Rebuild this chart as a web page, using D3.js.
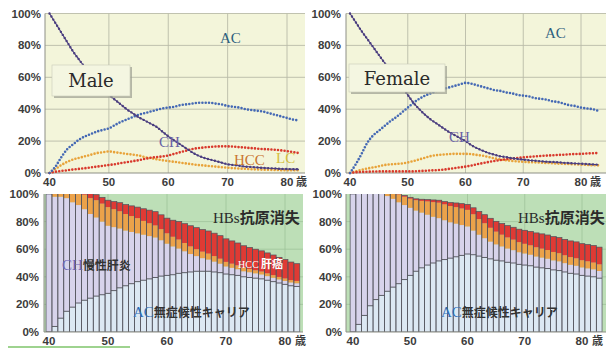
<!DOCTYPE html>
<html>
<head>
<meta charset="utf-8">
<script src="https://cdn.jsdelivr.net/npm/d3@7"></script>
<style>
  body { margin: 0; background: #fff; }
  svg { display: block; }
</style>
</head>
<body>
<svg id="chart" width="606" height="349"></svg>
<script>
// ---- Data: share of HBV carriers in each state by age (%) ----
const maleAges = [40,41,42,43,44,45,46,47,48,49,50,51,52,53,54,55,56,57,58,59,60,61,62,63,64,65,66,67,68,69,70,71,72,73,74,75,76,77,78,79,80,81,82];
const maleAC  = [0,4,10,15,18,21,23,24.5,26,27,28,30,32,33.5,35,36.5,37.5,38.5,39.5,40.5,41,41.5,42.5,43,43.5,44,44,44,43.5,43,42,41.5,41,40,39.5,39,38.5,37.5,36.5,35.5,34.5,33.5,33];
const maleCH  = [100,94,88,82,76,71,66,61,57,53,49,46,43,40,37.5,35,33,31,29,26,23,20.5,18,15.5,13,11,9.5,8.5,7.5,6.5,5.5,5,4.5,4,3.8,3.5,3.2,3,2.8,2.6,2.5,2.4,2.3];
const maleLC  = [0,2.5,5,7,8.5,9.5,10.5,11.5,12.5,13,13.5,13,12.5,12,11.5,11,10,9.3,8.7,8,7.5,7,6.5,6,5.5,5,4.7,4.3,4,3.6,3.3,3,2.8,2.6,2.4,2.2,2.1,2,1.9,1.8,1.8,1.7,1.7];
const maleHCC = [0,0.8,1.3,1.7,2.2,2.6,3,3.5,4,4.5,5,5.5,6.2,6.8,7.4,8,8.8,9.5,10,10.4,11,12,13,14,15,15.6,16,16.4,16.6,16.7,16.7,16.5,16.2,15.9,15.6,15.3,15,14.8,14.6,14.2,13.7,13.1,12.5];

const femaleAges = [40,41,42,43,44,45,46,47,48,49,50,51,52,53,54,55,56,57,58,59,60,61,62,63,64,65,66,67,68,69,70,71,72,73,74,75,76,77,78,79,80,81,82,83];
const femaleAC  = [0,5.5,12,19,23.5,26.5,29.5,32.5,35,38,41,44,46.5,48.5,50,51.5,52.5,53.5,54.5,55.5,56.5,56,55,54,53,52,51.5,50.5,50,49,48.5,48,47,46.5,46,45,44.5,43.5,42.5,42,41,40.5,40,39];
const femaleCH  = [100,94.5,89,84,79,74,69,64,59,54,49,44,40,36.5,33.5,31,28.5,26,24,22,20,17.5,15.5,14,12.5,11.5,10.5,10,9.3,8.8,8.4,8,7.7,7.4,7.1,6.9,6.7,6.4,6.2,6,5.8,5.6,5.4,5.2];
const femaleLC  = [0,1,2,2.8,3.5,4.2,5,5.4,5.7,6,6.6,7.5,8.5,9.6,10.6,11.2,11.5,11.8,12,12,12,11.8,11.3,10.8,10,9.2,8.5,8,7.6,7.3,7,6.8,6.7,6.5,6.3,6.1,5.9,5.7,5.6,5.4,5.2,5.1,4.9,4.8];
const femaleHCC = [0,0.5,0.7,0.8,0.9,1,1,1,1,1,1,1,1.2,1.4,1.6,1.8,2,2.5,3,3.5,4,4.7,5.5,6.2,6.9,7.5,8.1,8.6,9,9.4,9.8,10.1,10.4,10.7,10.9,11.1,11.3,11.5,11.7,11.9,12,12.2,12.4,12.5];

const pctTicks = [0, 20, 40, 60, 80, 100];
const ageTicks = [40, 50, 60, 70, 80];
const stateKeys = ["ac", "ch", "lc", "hcc"];

// ---- Look ----
const COL = {
  topBg: "#f3f5da", grid: "#b9bba8", axis: "#8d8f86", tick: "#3c3c3c",
  ac: "#4569b4", ch: "#4a3d7f", lc: "#e8a33a", hcc: "#d8392c",
  green: "#bddfb7", acFill: "#dce8f3", chFill: "#d7d3eb", lcFill: "#eba24a", hccFill: "#df3a34",
  barLine: "#50505a"
};
const SANS = "'Liberation Sans', Arial, sans-serif";
const SERIF = "'Liberation Serif', 'Times New Roman', serif";
const CJK = "'Noto Sans CJK JP', sans-serif";

const svg = d3.select("#chart");
const defs = svg.append("defs");

const panels = [
  {
    id: "m", ages: maleAges, ac: maleAC, ch: maleCH, lc: maleLC, hcc: maleHCC,
    name: "Male", nameBox: [52, 65, 78, 31],
    top: { left: 45, right: 305, x40: 49.5, x80: 287, yTop: 13.5, yBot: 173, labelRight: 41 },
    bot: { left: 44, right: 303, x40: 49, x80: 285, yTop: 194, yBot: 332, labelRight: 39 },
    labels: [
      { t: "AC", x: 220, y: 43, c: "#2e5f7e" },
      { t: "CH", x: 159, y: 147, c: "#6a62a6" },
      { t: "HCC", x: 234, y: 165, c: "#c97530" },
      { t: "LC", x: 276, y: 163, c: "#d6bf3e" }
    ],
    hbs: 213, chLab: [62, 270], hccLab: [238, 268], acLab: [133, 317]
  },
  {
    id: "f", ages: femaleAges, ac: femaleAC, ch: femaleCH, lc: femaleLC, hcc: femaleHCC,
    name: "Female", nameBox: [349, 64, 96, 28],
    top: { left: 346, right: 606, x40: 350, x80: 581, yTop: 13.5, yBot: 173, labelRight: 341 },
    bot: { left: 346, right: 606, x40: 353, x80: 582, yTop: 194, yBot: 332, labelRight: 342 },
    labels: [
      { t: "AC", x: 545, y: 38, c: "#2e5f7e" },
      { t: "CH", x: 449, y: 142, c: "#6a62a6" }
    ],
    hbs: 518, chLab: null, hccLab: null, acLab: [441, 317]
  }
];

panels.forEach(p => {
  const rows = p.ages.map((a, i) => ({ age: a, ac: p.ac[i], ch: p.ch[i], lc: p.lc[i], hcc: p.hcc[i] }));

  // ================= Top: line chart =================
  const T = p.top;
  const x = d3.scaleLinear().domain([40, 80]).range([T.x40, T.x80]);
  const y = d3.scaleLinear().domain([0, 100]).range([T.yBot, T.yTop]);
  const gT = svg.append("g");

  defs.append("clipPath").attr("id", "clipTop" + p.id)
    .append("rect").attr("x", T.left).attr("y", T.yTop - 3).attr("width", T.right - T.left).attr("height", T.yBot - T.yTop + 6);

  gT.append("rect").attr("x", T.left).attr("y", T.yTop)
    .attr("width", T.right - T.left).attr("height", T.yBot - T.yTop).attr("fill", COL.topBg);

  // grid
  gT.append("g").selectAll("line").data(pctTicks.filter(d => d > 0)).join("line")
    .attr("x1", T.left).attr("x2", T.right).attr("y1", d => y(d)).attr("y2", d => y(d))
    .attr("stroke", COL.grid).attr("stroke-width", 0.9);
  gT.append("g").selectAll("line").data(ageTicks.filter(d => d > 40)).join("line")
    .attr("x1", d => x(d)).attr("x2", d => x(d)).attr("y1", T.yTop).attr("y2", T.yBot)
    .attr("stroke", COL.grid).attr("stroke-width", 0.9);
  gT.append("line").attr("x1", T.left).attr("x2", T.left).attr("y1", T.yTop).attr("y2", T.yBot)
    .attr("stroke", COL.axis).attr("stroke-width", 1);
  gT.append("line").attr("x1", T.left).attr("x2", T.right).attr("y1", T.yBot).attr("y2", T.yBot)
    .attr("stroke", COL.axis).attr("stroke-width", 1);

  // tick labels
  gT.append("g").selectAll("text").data(pctTicks).join("text")
    .attr("x", T.labelRight).attr("y", d => y(d) + 4).attr("text-anchor", "end")
    .attr("font-family", SANS).attr("font-size", 11.5).attr("font-weight", "bold").attr("fill", COL.tick)
    .text(d => d + "%");
  gT.append("g").selectAll("text").data(ageTicks).join("text")
    .attr("x", d => x(d)).attr("y", T.yBot + 13).attr("text-anchor", "middle")
    .attr("font-family", SANS).attr("font-size", 11.5).attr("font-weight", "bold").attr("fill", COL.tick)
    .text(d => d);
  gT.append("text").attr("x", x(80) + 9).attr("y", T.yBot + 13)
    .attr("font-family", CJK).attr("font-size", 11).attr("font-weight", "bold").attr("fill", COL.tick).text("歳");

  // series
  const gl = gT.append("g").attr("clip-path", `url(#clipTop${p.id})`);
  const line = key => d3.line().curve(d3.curveMonotoneX).x(d => x(d.age)).y(d => y(d[key]))(rows);
  const dotted = (key, color, w, gap) => gl.append("path").attr("d", line(key))
    .attr("fill", "none").attr("stroke", color).attr("stroke-width", w)
    .attr("stroke-linecap", "round").attr("stroke-dasharray", `0 ${gap}`);
  dotted("lc", COL.lc, 2.6, 3.3);
  dotted("hcc", COL.hcc, 2.6, 3.3);
  dotted("ac", COL.ac, 2.6, 3.3);
  gl.append("path").attr("d", line("ch")).attr("fill", "none").attr("stroke", COL.ch).attr("stroke-width", 1.1);
  dotted("ch", COL.ch, 2.4, 3.6);

  // series labels
  p.labels.forEach(l => gT.append("text").attr("x", l.x).attr("y", l.y)
    .attr("font-family", SERIF).attr("font-size", 15).attr("fill", l.c).text(l.t));

  // sex label box
  const [bx, by, bw, bh] = p.nameBox;
  gT.append("rect").attr("x", bx + 2).attr("y", by + 2).attr("width", bw).attr("height", bh).attr("fill", "#9a9c90").attr("opacity", 0.7);
  gT.append("rect").attr("x", bx).attr("y", by).attr("width", bw).attr("height", bh).attr("fill", "#f4f6e1").attr("stroke", "#c9cbb9").attr("stroke-width", 0.6);
  gT.append("text").attr("x", bx + bw / 2).attr("y", by + bh / 2 + 6.5).attr("text-anchor", "middle")
    .attr("font-family", "'DejaVu Serif', serif").attr("font-size", 18).attr("fill", "#2a2a2a").text(p.name);

  // ================= Bottom: stacked bars =================
  const B = p.bot;
  const step = (B.x80 - B.x40) / 40;
  const xb = d3.scaleBand().domain(p.ages).range([B.x40 - step / 2, B.x40 - step / 2 + step * p.ages.length]).padding(0);
  const xa = d3.scaleLinear().domain([40, 80]).range([B.x40, B.x80]);
  const yb = d3.scaleLinear().domain([0, 100]).range([B.yBot, B.yTop]);
  const gB = svg.append("g");

  defs.append("clipPath").attr("id", "clipBot" + p.id)
    .append("rect").attr("x", B.left).attr("y", B.yTop).attr("width", B.right - B.left).attr("height", B.yBot - B.yTop);

  gB.append("rect").attr("x", B.left).attr("y", B.yTop)
    .attr("width", B.right - B.left).attr("height", B.yBot - B.yTop).attr("fill", COL.green);
  gB.append("g").selectAll("line").data(pctTicks.filter(d => d > 0 && d < 100)).join("line")
    .attr("x1", B.left).attr("x2", B.right).attr("y1", d => yb(d)).attr("y2", d => yb(d))
    .attr("stroke", "#9fc39b").attr("stroke-width", 0.8);
  gB.append("g").selectAll("line").data(ageTicks.filter(d => d > 40)).join("line")
    .attr("x1", d => xa(d)).attr("x2", d => xa(d)).attr("y1", B.yTop).attr("y2", B.yBot)
    .attr("stroke", "#9fc39b").attr("stroke-width", 0.8);

  const stack = d3.stack().keys(stateKeys)(rows);
  const fills = { ac: COL.acFill, ch: COL.chFill, lc: COL.lcFill, hcc: COL.hccFill };
  const gBars = gB.append("g").attr("clip-path", `url(#clipBot${p.id})`);
  stack.forEach(layer => {
    gBars.append("g").selectAll("rect").data(layer).join("rect")
      .attr("x", d => xb(d.data.age)).attr("width", xb.bandwidth())
      .attr("y", d => yb(d[1])).attr("height", d => yb(d[0]) - yb(d[1]))
      .attr("fill", fills[layer.key]);
  });
  // bar outlines over the whole stack, plus the carrier (AC) step
  const top = stack[stack.length - 1];
  gBars.append("g").selectAll("rect").data(top).join("rect")
    .attr("x", d => xb(d.data.age)).attr("width", xb.bandwidth())
    .attr("y", d => yb(d[1])).attr("height", d => yb(0) - yb(d[1]))
    .attr("fill", "none").attr("stroke", COL.barLine).attr("stroke-width", 0.7);
  gBars.append("g").selectAll("line").data(stack[0]).join("line")
    .attr("x1", d => xb(d.data.age)).attr("x2", d => xb(d.data.age) + xb.bandwidth())
    .attr("y1", d => yb(d[1])).attr("y2", d => yb(d[1]))
    .attr("stroke", COL.barLine).attr("stroke-width", 0.9);

  gB.append("line").attr("x1", B.left).attr("x2", B.left).attr("y1", B.yTop).attr("y2", B.yBot)
    .attr("stroke", COL.axis).attr("stroke-width", 1);
  gB.append("line").attr("x1", B.left).attr("x2", B.right).attr("y1", B.yBot).attr("y2", B.yBot)
    .attr("stroke", COL.axis).attr("stroke-width", 1);

  gB.append("g").selectAll("text").data(pctTicks).join("text")
    .attr("x", B.labelRight).attr("y", d => yb(d) + 4).attr("text-anchor", "end")
    .attr("font-family", SANS).attr("font-size", 11.5).attr("font-weight", "bold").attr("fill", COL.tick)
    .text(d => d + "%");
  gB.append("g").selectAll("text").data(ageTicks).join("text")
    .attr("x", d => xa(d)).attr("y", B.yBot + 12.5).attr("text-anchor", "middle")
    .attr("font-family", SANS).attr("font-size", 11.5).attr("font-weight", "bold").attr("fill", COL.tick)
    .text(d => d);
  gB.append("text").attr("x", xa(80) + 10).attr("y", B.yBot + 12.5)
    .attr("font-family", CJK).attr("font-size", 11).attr("font-weight", "bold").attr("fill", COL.tick).text("歳");

  // area labels
  const hb = gB.append("text").attr("x", p.hbs).attr("y", 223).attr("fill", "#2b2b2b");
  hb.append("tspan").attr("font-family", SERIF).attr("font-size", 15).text("HBs");
  hb.append("tspan").attr("font-family", CJK).attr("font-size", 15).attr("font-weight", "bold").text("抗原消失");

  if (p.chLab) {
    const t = gB.append("text").attr("x", p.chLab[0]).attr("y", p.chLab[1]);
    t.append("tspan").attr("font-family", SERIF).attr("font-size", 15).attr("fill", "#6e64b4").text("CH");
    t.append("tspan").attr("font-family", CJK).attr("font-size", 12).attr("font-weight", "bold").attr("fill", "#333").text("慢性肝炎");
  }
  if (p.hccLab) {
    const t = gB.append("text").attr("x", p.hccLab[0]).attr("y", p.hccLab[1]).attr("fill", "#fff");
    t.append("tspan").attr("font-family", SERIF).attr("font-size", 10).text("HCC ");
    t.append("tspan").attr("font-family", CJK).attr("font-size", 11).attr("font-weight", "bold").text("肝癌");
  }
  const ta = gB.append("text").attr("x", p.acLab[0]).attr("y", p.acLab[1]);
  ta.append("tspan").attr("font-family", SERIF).attr("font-size", 15).attr("fill", "#2f6db5").text("AC");
  ta.append("tspan").attr("font-family", CJK).attr("font-size", 12).attr("font-weight", "bold").attr("fill", "#333").text("無症候性キャリア");
});

// thin green rule under the lower left panel
svg.append("rect").attr("x", 8).attr("y", 346).attr("width", 122).attr("height", 2).attr("fill", "#9ed38f");
</script>
</body>
</html>
